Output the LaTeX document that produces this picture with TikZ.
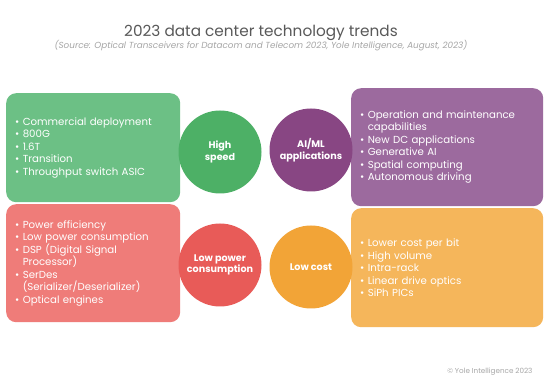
\documentclass[tikz,border=0pt]{standalone}
\usepackage{fontspec}
\setmainfont{Poppins}
\usepackage{tikz}
\usetikzlibrary{positioning}
\definecolor{speedbox}{HTML}{6CC085}
\definecolor{speedcirc}{HTML}{4DB066}
\definecolor{aibox}{HTML}{9C6A9E}
\definecolor{aicirc}{HTML}{884683}
\definecolor{powerbox}{HTML}{EF7C79}
\definecolor{powercirc}{HTML}{E85B58}
\definecolor{costbox}{HTML}{F5B65B}
\definecolor{costcirc}{HTML}{F2A437}
\newcommand{\itm}{\textbullet~}
\newcommand{\hang}{\phantom{\textbullet~}}

\begin{document}
\begin{tikzpicture}[
      x=1pt, y=-1pt,
      topicbox/.style = {
        rounded corners=10pt, text=white, inner sep=9pt,
        align=left, anchor=north west,
        font=\fontsize{10.2pt}{12.5pt}\selectfont,
      },
      topic/.style = {
        circle, minimum size=83pt, inner sep=0pt, text=white,
        align=center, font=\fontsize{9.6pt}{11.5pt}\selectfont\bfseries,
      },
    ]
    \useasboundingbox[fill=white] (0,0) rectangle (550,385);
    \node[text=black!65, font=\fontsize{15.3pt}{18pt}\selectfont] (Title) at (261,33)
      {2023 data center technology trends};
    \node[text=black!35, font=\fontsize{8.8pt}{10pt}\selectfont\itshape] (Source) at (261,46)
      {(Source: Optical Transceivers for Datacom and Telecom 2023, Yole Intelligence, August, 2023)};

    % boxes
    \node[topicbox, fill=speedbox, minimum width=174pt, minimum height=109pt,
      text width=156pt] (SpeedBox) at (6,93)
      {\itm Commercial deployment\\ \itm 800G\\ \itm 1.6T\\ \itm Transition\\ \itm Throughput switch ASIC};
    \node[topicbox, fill=powerbox, minimum width=174pt, minimum height=118pt,
      text width=156pt] (PowerBox) at (6,204)
      {\itm Power efficiency\\ \itm Low power consumption\\ \itm DSP (Digital Signal\\ \hang Processor)\\
       \itm SerDes\\ \hang(Serializer/Deserializer)\\ \itm Optical engines};
    \node[topicbox, fill=aibox, minimum width=192pt, minimum height=118pt,
      text width=174pt] (AIBox) at (351,88)
      {\itm Operation and maintenance\\ \hang capabilities\\ \itm New DC applications\\
       \itm Generative AI\\ \itm Spatial computing\\ \itm Autonomous driving};
    \node[topicbox, fill=costbox, minimum width=192pt, minimum height=119pt,
      text width=174pt] (CostBox) at (351,208)
      {\itm Lower cost per bit\\ \itm High volume\\ \itm Intra-rack\\ \itm Linear drive optics\\ \itm SiPh PICs};

    % circles
    \node[topic, fill=speedcirc] (Speed) at (220,152) {High\\ speed};
    \node[topic, fill=aicirc]    (AI)    at (311,150) {AI/ML\\ applications};
    \node[topic, fill=powercirc] (Power) at (220,265) {Low power\\ consumption};
    \node[topic, fill=costcirc]  (Cost)  at (311,267) {Low cost};

    \node[anchor=east, text=black!35, font=\fontsize{7.2pt}{8pt}\selectfont] (Copy) at (536,372)
      {\textcopyright{} Yole Intelligence 2023};
  \end{tikzpicture}
\end{document}
